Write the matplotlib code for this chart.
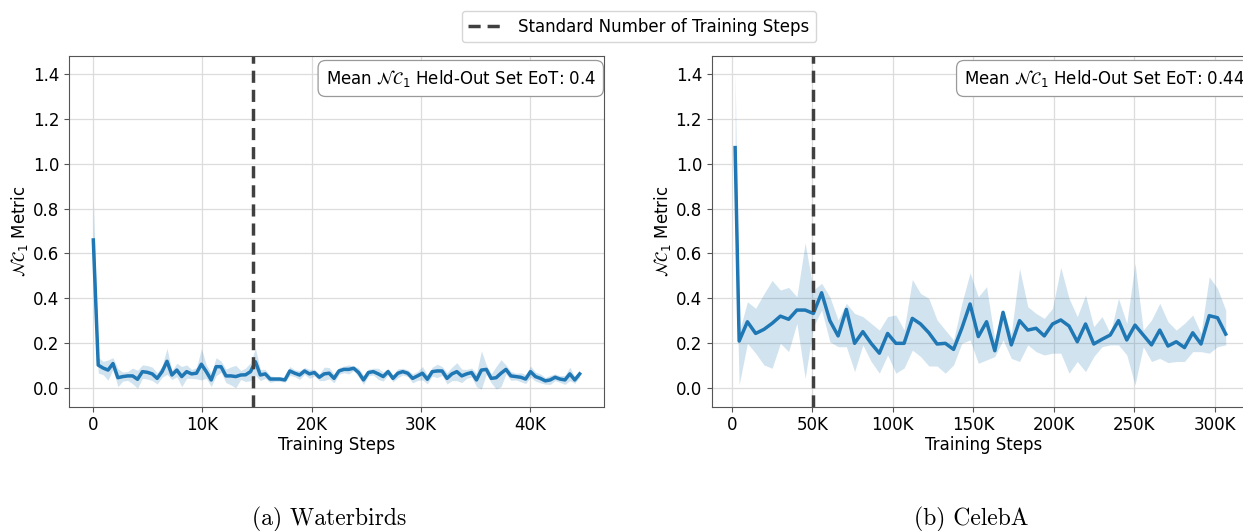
import numpy as np
import matplotlib
matplotlib.use('Agg')
import matplotlib.pyplot as plt
from matplotlib.lines import Line2D
from matplotlib.ticker import FuncFormatter

# Waterbirds: evaluated every 450 steps
wb_steps = list(range(0, 45000, 450))
wb_mean = [0.66, 0.103, 0.09, 0.081, 0.11, 0.047, 0.052, 0.055, 0.055, 0.04,
           0.074, 0.071, 0.064, 0.044, 0.074, 0.12, 0.059, 0.081, 0.052, 0.074,
           0.064, 0.067, 0.107, 0.074, 0.037, 0.096, 0.096, 0.055, 0.055, 0.052,
           0.059, 0.06, 0.074, 0.118, 0.059, 0.064, 0.041, 0.041, 0.041, 0.037,
           0.077, 0.067, 0.059, 0.077, 0.064, 0.07, 0.049, 0.064, 0.067, 0.044,
           0.077, 0.084, 0.084, 0.089, 0.07, 0.037, 0.07, 0.074, 0.064, 0.052,
           0.074, 0.044, 0.067, 0.074, 0.067, 0.044, 0.055, 0.067, 0.04, 0.074,
           0.077, 0.077, 0.044, 0.064, 0.074, 0.055, 0.064, 0.07, 0.037, 0.081,
           0.084, 0.044, 0.047, 0.067, 0.084, 0.055, 0.052, 0.049, 0.041, 0.074,
           0.052, 0.044, 0.033, 0.037, 0.049, 0.041, 0.037, 0.064, 0.037, 0.064]
wb_err = [0.19, 0.035, 0.03, 0.045, 0.026, 0.04, 0.02, 0.02, 0.035, 0.04,
          0.03, 0.03, 0.03, 0.025, 0.025, 0.058, 0.02, 0.03, 0.045, 0.03,
          0.02, 0.025, 0.07, 0.03, 0.03, 0.04, 0.025, 0.03, 0.04, 0.05,
          0.02, 0.03, 0.04, 0.06, 0.025, 0.02, 0.015, 0.01, 0.01, 0.01,
          0.02, 0.015, 0.02, 0.015, 0.02, 0.015, 0.015, 0.03, 0.025, 0.02,
          0.015, 0.015, 0.02, 0.01, 0.02, 0.02, 0.015, 0.015, 0.025, 0.02,
          0.015, 0.015, 0.02, 0.015, 0.015, 0.02, 0.02, 0.03, 0.02, 0.02,
          0.03, 0.02, 0.025, 0.03, 0.04, 0.03, 0.02, 0.02, 0.03, 0.085,
          0.02, 0.02, 0.05, 0.06, 0.02, 0.02, 0.015, 0.02, 0.02, 0.025,
          0.02, 0.02, 0.015, 0.02, 0.015, 0.015, 0.02, 0.03, 0.015, 0.015]
wb_std_steps = 14600
wb_eot = 0.4

# CelebA
cb_steps = [2100] + list(range(4600, 4600 + 60 * 5125, 5125))
cb_mean = [1.071, 0.21, 0.296, 0.244, 0.262, 0.289, 0.321, 0.307, 0.348, 0.348,
           0.333, 0.425, 0.301, 0.233, 0.351, 0.2, 0.252, 0.2, 0.156, 0.244,
           0.2, 0.2, 0.311, 0.286, 0.247, 0.197, 0.2, 0.173, 0.267, 0.375,
           0.23, 0.296, 0.167, 0.338, 0.193, 0.301, 0.259, 0.267, 0.233, 0.286,
           0.304, 0.277, 0.207, 0.286, 0.197, 0.218, 0.237, 0.301, 0.215, 0.281,
           0.237, 0.193, 0.259, 0.188, 0.207, 0.181, 0.247, 0.197, 0.323, 0.314,
           0.241]
cb_lo = [0.73, 0.015, 0.2, 0.156, 0.104, 0.089, 0.2, 0.163, 0.289, 0.044,
         0.274, 0.348, 0.207, 0.185, 0.185, 0.074, 0.193, 0.119, 0.067, 0.148,
         0.067, 0.09, 0.17, 0.141, 0.099, 0.099, 0.067, 0.104, 0.2, 0.215,
         0.111, 0.126, 0.141, 0.215, 0.133, 0.119, 0.193, 0.163, 0.148, 0.156,
         0.156, 0.067, 0.119, 0.074, 0.141, 0.185, 0.193, 0.193, 0.148, 0.015,
         0.185, 0.119, 0.133, 0.114, 0.119, 0.119, 0.163, 0.163, 0.156, 0.185,
         0.193]
cb_hi = [1.407, 0.25, 0.385, 0.356, 0.42, 0.48, 0.437, 0.449, 0.407, 0.647,
         0.437, 0.467, 0.407, 0.304, 0.378, 0.333, 0.319, 0.289, 0.259, 0.319,
         0.326, 0.26, 0.484, 0.422, 0.4, 0.304, 0.259, 0.215, 0.378, 0.514,
         0.407, 0.452, 0.215, 0.348, 0.244, 0.533, 0.363, 0.333, 0.311, 0.356,
         0.538, 0.4, 0.319, 0.415, 0.274, 0.319, 0.244, 0.4, 0.289, 0.556,
         0.259, 0.304, 0.378, 0.296, 0.259, 0.289, 0.326, 0.244, 0.496, 0.444,
         0.348]
cb_std_steps = 50800
cb_eot = 0.44

BLUE = '#1f77b4'
FS = 12
BOX = dict(boxstyle='round,pad=0.45', fc='white', ec='#999999', lw=0.9)

fig = plt.figure(figsize=(12.43, 5.31), dpi=100)
ax1 = fig.add_axes([0.0555, 0.2341, 0.4304, 0.661])
# right panel runs past the figure edge (cropped like the original)
ax2 = fig.add_axes([0.5726, 0.2341, 0.4371, 0.661])


def kfmt(v, pos):
    if v == 0:
        return '0'
    return '%dK' % round(v / 1000)


def panel(ax, steps, mean, lo, hi, std_step):
    ax.fill_between(steps, lo, hi, color=BLUE, alpha=0.2, lw=0)
    ax.plot(steps, mean, color=BLUE, lw=2.5)
    ax.axvline(std_step, color='#404040', ls=(0, (3.5, 2)), lw=2.5)
    ax.set_ylim(-0.082, 1.48)
    ax.set_yticks([0.0, 0.2, 0.4, 0.6, 0.8, 1.0, 1.2, 1.4])
    ax.grid(True, color='#dcdcdc', lw=0.9)
    ax.set_axisbelow(True)
    ax.xaxis.set_major_formatter(FuncFormatter(kfmt))
    ax.tick_params(labelsize=FS, color='#555555')
    for s in ax.spines.values():
        s.set_color('#555555')
    ax.set_xlabel('Training Steps', fontsize=FS, labelpad=1)
    ax.set_ylabel(r'$\mathcal{NC}_1$ Metric', fontsize=FS, labelpad=2)


wb_lo = np.array(wb_mean) - np.array(wb_err)
wb_hi = np.array(wb_mean) + np.array(wb_err)
panel(ax1, wb_steps, wb_mean, wb_lo, wb_hi, wb_std_steps)
ax1.set_xticks([0, 10000, 20000, 30000, 40000])
ax1.text(0.985, 0.965, r'Mean $\mathcal{NC}_1$ Held-Out Set EoT: ' + str(wb_eot),
         transform=ax1.transAxes, ha='right', va='top', fontsize=FS, bbox=BOX)

panel(ax2, cb_steps, cb_mean, cb_lo, cb_hi, cb_std_steps)
ax2.set_xticks([0, 50000, 100000, 150000, 200000, 250000, 300000])
ax2.set_xlim(-12430, 325200)
ax2.annotate(r'Mean $\mathcal{NC}_1$ Held-Out Set EoT: ' + str(cb_eot),
             xy=(1245 / 1243, 0.965), xycoords=(fig.transFigure, ax2.transAxes),
             ha='right', va='top', fontsize=FS, bbox=BOX, annotation_clip=False)

handle = Line2D([], [], color='#404040', ls=(0, (3.5, 2)), lw=2.5)
fig.legend([handle], ['Standard Number of Training Steps'], loc='upper center',
           bbox_to_anchor=(0.514, 0.995), fontsize=FS, frameon=True,
           edgecolor='#cccccc', fancybox=True, handlelength=2.2)

fig.text(329 / 1243, 1 - 519 / 531, '(a) Waterbirds', family='cmr10',
         fontsize=17, ha='center', va='center')
fig.text(971 / 1243, 1 - 519 / 531, '(b) CelebA', family='cmr10',
         fontsize=17, ha='center', va='center')

fig.savefig('out.png', dpi=100)
